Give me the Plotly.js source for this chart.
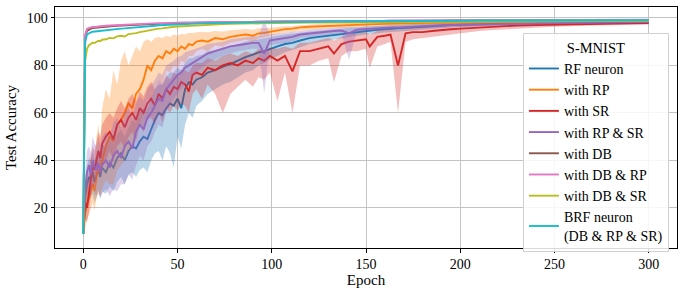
<!DOCTYPE html>
<html><head><meta charset="utf-8">
<script src="https://cdn.plot.ly/plotly-3.0.1.min.js"></script>
<style>html,body{margin:0;padding:0;background:#fff}#chart{width:685px;height:295px}</style>
</head><body><div id="chart"></div>
<script>
// epochs sampled along the x axis
const epochs = [0,1,2,3,4,5,6,7,8,9,10,
12,14,16,18,20,22,24,26,28,30,32,34,36,38,40,42,44,46,48,50,52,54,56,58,60,
63,66,70,74,78,82,86,90,93,96,99,
103,107,111,115,120,125,130,133,137,141,145,150,152,156,160,163,167,171,175,180,
185,190,195,200,
210,220,230,240,250,260,270,280,290,300];

// RF neuron
const rfMean = [9,25,30,33,32,35,31,34,36,33,37,
35,39,37,41,43,40,44,46,45,48,50,49,53,57,60,59,62,64,63,66,62,70,73,72,74,
75,77,78,79.5,80.5,82,83.5,84.5,85.5,86,87,
88,89,89.5,90.5,91.5,92,92.5,93,93.3,93.8,94.2,94.6,94.7,95,95.3,95.5,95.7,95.9,96.1,96.3,
96.6,96.8,97,97.1,
97.4,97.6,97.8,97.9,98,98.1,98.2,98.3,98.3,98.4];
const rfLo = [8,18,22,25,24,26,22,25,27,24,27,
26,29,27,31,33,30,34,35,33,36,37,35,40,43,44,40,46,43,37,50,45,55,60,58,63,
65,68,70,72,73,75,77,78,80,81,82.5,
84,85.5,86.5,87.5,89,89.8,90.5,91,91.4,92,92.5,93,93.1,93.5,93.9,94.1,94.4,94.6,94.9,95.1,
95.5,95.8,96,96.2,
96.6,96.9,97.1,97.3,97.5,97.6,97.7,97.8,97.9,98];
const rfHi = [10,32,38,41,40,44,40,43,45,42,47,
45,49,47,51,53,50,54,57,56,60,62,62,66,70,72,72,75,77,77,79,78,81,83,83,84,
84.5,86,86.5,87.5,88,89,90,90.5,91,91.5,92,
92.5,93,93.3,93.8,94.3,94.7,95,95.3,95.5,95.8,96.1,96.4,96.5,96.7,96.9,97,97.2,97.3,97.5,97.6,
97.8,97.9,98,98.1,
98.3,98.4,98.5,98.6,98.6,98.7,98.8,98.8,98.8,98.9];

// with RP
const rpMean = [9,18,22,24,28,30,27,33,36,35,40,
46,50,48,55,57,60,64,62,68,70,74,80,78,82,84,83,86,85,87,86,88,87,89,88.5,90,
90.5,90,91.5,91,92,92.5,93,92.5,93.5,93.7,94.2,
94.8,95.3,95.5,96,96.3,96.5,96.7,96.8,96.9,97,97.1,97.3,97.3,97.4,97.5,97.6,97.6,97.7,97.7,97.8,
97.9,97.9,98,98,
98.1,98.2,98.3,98.3,98.4,98.4,98.5,98.5,98.6,98.6];
const rpLo = [8,12,15,17,20,22,19,24,26,25,28,
32,30,30,36,38,40,44,45,52,56,60,66,64,70,74,72,78,77,80,79,82,81,84,84,86,
87,86,88.5,88,89.5,90,90.8,90,91.5,91.8,92.5,
93.2,93.8,94,94.6,95,95.2,95.5,95.6,95.8,95.9,96,96.3,96.3,96.4,96.6,96.7,96.7,96.8,96.9,97,
97.1,97.2,97.3,97.4,
97.6,97.7,97.8,97.9,98,98,98.1,98.2,98.2,98.3];
const rpHi = [10,28,35,30,42,40,38,50,55,48,62,
70,66,78,72,82,86,80,84,88,86,90,91,90,91.5,92,91.5,92.5,92,93,92.5,93.3,93,93.8,93.5,94,
94.2,94,94.5,94.3,94.8,95,95.3,95,95.6,95.7,96,
96.3,96.5,96.6,97,97.2,97.4,97.6,97.7,97.8,97.9,98,98.1,98.1,98.2,98.3,98.3,98.4,98.4,98.5,98.5,
98.6,98.6,98.7,98.7,
98.7,98.8,98.8,98.8,98.9,98.9,98.9,99,99,99];

// with SR
const srMean = [10,22,20,26,33,38,36,40,44,41,47,
50,52,49,55,57,54,58,60,57,62,60,64,66,63,68,66,70,68,71,70,73,72,69,76,77,
76,79,78,80,81,80,82,81,83,82,84,
82,84,77.5,86,86,87,88,85,89,90,90.5,91,88,92,92.5,93,80,93.5,94,94,
94.5,95,95.2,95.5,
96,96.5,96.8,97,97.2,97.4,97.5,97.6,97.7,97.8];
const srLo = [8,15,14,18,25,28,30,32,35,33,38,
40,44,40,46,48,45,50,52,48,55,52,57,58,55,60,56,62,60,63,61,64,63,60,68,70,
66,72,68,60,68,71,74,71,75,74,77,
65,77,60,80,80,82,83,73,84,86,86,87,79,88,89,90,60,90,91,91.5,
92,92.5,93,93.5,
94.5,95,95.5,96,96.3,96.6,96.8,97,97.1,97.2];
const srHi = [12,30,28,35,42,46,44,48,52,50,55,
58,60,58,62,65,62,66,68,65,69,67,71,73,70,74,72,76,74,77,76,78,78,77,80,81,
81,83,82,84,85,84,86,85,87,86,87.5,
87,88,87,89.5,89.5,90.5,91.5,90.5,92,93,93.5,94,93,94.5,95,95.3,95,95.6,96,96.2,
96.4,96.6,96.8,97,
97.3,97.6,97.8,98,98.1,98.2,98.3,98.4,98.4,98.5];

// with RP & SR
const rpsrMean = [9,28,35,38,34,40,37,36,39,35,38,
40,37,42,44,41,46,48,45,52,55,53,58,60,63,66,65,70,72,74,76,77,79,80,81,82,
83.5,85,86,87,88,88.5,89,89.5,89.5,85,90.5,
91,91.5,92,93,93.5,94,94.3,94.5,94.7,93.5,95,95.3,95.4,95.6,95.8,96,96,96.2,96.4,96.6,
96.8,96.9,97,97.1,
97.3,97.5,97.7,97.8,97.9,98,98.1,98.2,98.3,98.4];
const rpsrLo = [8,20,26,30,25,30,26,25,28,24,26,
28,25,28,27,30,30,34,32,38,42,40,46,48,52,55,54,60,63,66,68,70,72,74,75,77,
79,81,82.5,84,85,86,86.5,87,87,68.5,88.5,
89,89.5,90,91.5,92,92.5,93,93.3,93.5,82.4,94,94.3,94.4,94.7,95,95.2,95.2,95.4,95.6,95.8,
96,96.2,96.3,96.5,
96.8,97,97.2,97.4,97.5,97.6,97.7,97.8,97.9,98];
const rpsrHi = [10,36,44,46,43,50,47,46,50,46,50,
52,50,56,58,54,60,62,58,64,67,65,70,72,74,77,76,80,81,82,83.5,84,85.5,86,86.5,87,
88,89,89.5,90,91,91.5,92,92.3,92.3,99,93,
93.3,93.6,94,94.5,95,95.3,95.6,95.7,95.9,96.3,96.1,96.3,96.4,96.6,96.7,96.9,96.9,97.1,97.2,97.4,
97.5,97.6,97.7,97.8,
97.9,98.1,98.2,98.3,98.4,98.5,98.5,98.6,98.7,98.8];

// with DB
const dbMean = [9,92,94.5,95.2,95.5,95.7,95.8,96,96.1,96.2,96.3,
96.4,96.5,96.6,96.7,96.8,96.9,97,97,97.1,97.2,97.3,97.3,97.4,97.5,97.5,97.6,97.6,97.7,97.7,97.8,97.8,97.9,97.9,97.9,98,
98,98.1,98.1,98.2,98.2,98.2,98.3,98.3,98.3,98.4,98.4,
98.4,98.5,98.5,98.5,98.5,98.6,98.6,98.6,98.6,98.7,98.7,98.7,98.7,98.7,98.7,98.8,98.8,98.8,98.8,98.8,
98.8,98.8,98.9,98.9,
98.9,98.9,99,99,99,99,99,99,99.1,99.1];
// with DB & RP
const dbrpMean = [9,93,95.4,95.8,96,96.2,96.1,96.3,96.4,96.4,96.6,
96.7,96.8,96.9,97,97.1,97.1,97.2,97.3,97.4,97.5,97.5,97.6,97.7,97.7,97.8,97.8,97.9,97.9,98,98,98,98.1,98.1,98.1,98.2,
98.2,98.2,98.3,98.3,98.3,98.4,98.4,98.4,98.5,98.5,98.5,
98.5,98.6,98.6,98.6,98.6,98.7,98.7,98.7,98.7,98.8,98.8,98.8,98.8,98.8,98.8,98.9,98.9,98.9,98.9,98.9,
98.9,99,99,99,
99,99,99.1,99.1,99.1,99.1,99.1,99.2,99.2,99.2];
// with DB & SR
const dbsrMean = [9,82,87,88.5,89,89.6,89.4,90,90.4,90.2,90.8,
91,91.6,91.4,92.2,92.5,92.2,93.2,93.3,93.6,94,94.3,94.8,94.8,95.2,95.5,95.6,95.9,96.1,96.3,96.4,96.5,96.6,96.8,96.9,97,
97.1,97.2,97.3,97.4,97.5,97.6,97.6,97.7,97.7,97.8,97.8,
97.8,97.9,97.9,98,98,98,98.1,98.1,98.1,98.2,98.2,98.2,98.2,98.3,98.3,98.3,98.3,98.3,98.4,98.4,
98.4,98.4,98.5,98.5,
98.5,98.5,98.6,98.6,98.6,98.6,98.7,98.7,98.7,98.7];
// BRF neuron (DB & RP & SR)
const brfMean = [9,90,93,93.6,93.9,94.2,94.3,94.5,94.6,94.7,94.8,
94.9,95,95.1,95.3,95.5,95.6,95.7,95.9,96,96.2,96.3,96.4,96.6,96.7,96.9,97,97.1,97.2,97.3,97.3,97.4,97.5,97.5,97.6,97.6,
97.7,97.7,97.8,97.9,98,98,98.1,98.1,98.2,98.2,98.2,
98.3,98.3,98.3,98.4,98.4,98.4,98.5,98.5,98.5,98.5,98.6,98.6,98.6,98.6,98.7,98.7,98.7,98.7,98.7,98.8,
98.8,98.8,98.8,98.8,
98.9,98.9,98.9,98.9,99,99,99,99,99,99];

const seriesNames = ['RF neuron','with RP','with SR','with RP & SR','with DB','with DB & RP','with DB & SR','BRF neuron<br>(DB & RP & SR)'];
const colors = ['#1f77b4','#ff7f0e','#d62728','#9467bd','#8c564b','#e377c2','#bcbd22','#17becf'];
const bandFills = ['rgba(31,119,180,0.3)','rgba(255,127,14,0.3)','rgba(214,39,40,0.3)','rgba(148,103,189,0.3)'];

const series = [
  {m: rfMean, lo: rfLo, hi: rfHi},
  {m: rpMean, lo: rpLo, hi: rpHi},
  {m: srMean, lo: srLo, hi: srHi},
  {m: rpsrMean, lo: rpsrLo, hi: rpsrHi},
  {m: dbMean}, {m: dbrpMean}, {m: dbsrMean}, {m: brfMean}
];

const traces = [];
series.forEach((s, i) => {
  if (s.lo) {
    traces.push({x: epochs, y: s.lo, mode: 'lines', line: {width: 0, color: colors[i]}, showlegend: false, hoverinfo: 'skip'});
    traces.push({x: epochs, y: s.hi, mode: 'lines', line: {width: 0, color: colors[i]}, fill: 'tonexty', fillcolor: bandFills[i], showlegend: false, hoverinfo: 'skip'});
  }
  traces.push({x: epochs, y: s.m, mode: 'lines', name: seriesNames[i], line: {width: 1.9, color: colors[i]}});
});

const font = {family: '"Liberation Serif", "DejaVu Serif", serif', size: 14, color: '#000'};
const layout = {
  width: 685, height: 295,
  margin: {l: 55, r: 8, t: 7, b: 47},
  paper_bgcolor: '#fff', plot_bgcolor: '#fff',
  font: font,
  showlegend: true,
  xaxis: {
    range: [-15, 315], tickvals: [0,50,100,150,200,250,300],
    ticks: 'outside', ticklen: 3.5, tickcolor: '#000',
    showline: true, mirror: true, linecolor: '#000', linewidth: 1,
    showgrid: true, gridcolor: '#c4c4c4', gridwidth: 1, zeroline: false,
    title: {text: 'Epoch', font: {size: 15}, standoff: 2},
    tickfont: {size: 14}
  },
  yaxis: {
    range: [3.1, 104.6], tickvals: [20,40,60,80,100],
    ticks: 'outside', ticklen: 3.5, tickcolor: '#000',
    showline: true, mirror: true, linecolor: '#000', linewidth: 1,
    showgrid: true, gridcolor: '#c4c4c4', gridwidth: 1, zeroline: false,
    title: {text: 'Test Accuracy', font: {size: 15}, standoff: 6},
    tickfont: {size: 14}
  },
  legend: {
    x: 0.987, xanchor: 'right', y: 0.892, yanchor: 'top',
    traceorder: 'normal',
    bgcolor: 'rgba(255,255,255,0.85)', bordercolor: '#d0d0d0', borderwidth: 1,
    font: {size: 14}, tracegroupgap: 0,
    title: {text: 'S-MNIST', side: 'top center', font: {size: 14.5}}
  }
};
Plotly.newPlot('chart', traces, layout, {displayModeBar: false, staticPlot: true});
</script></body></html>
